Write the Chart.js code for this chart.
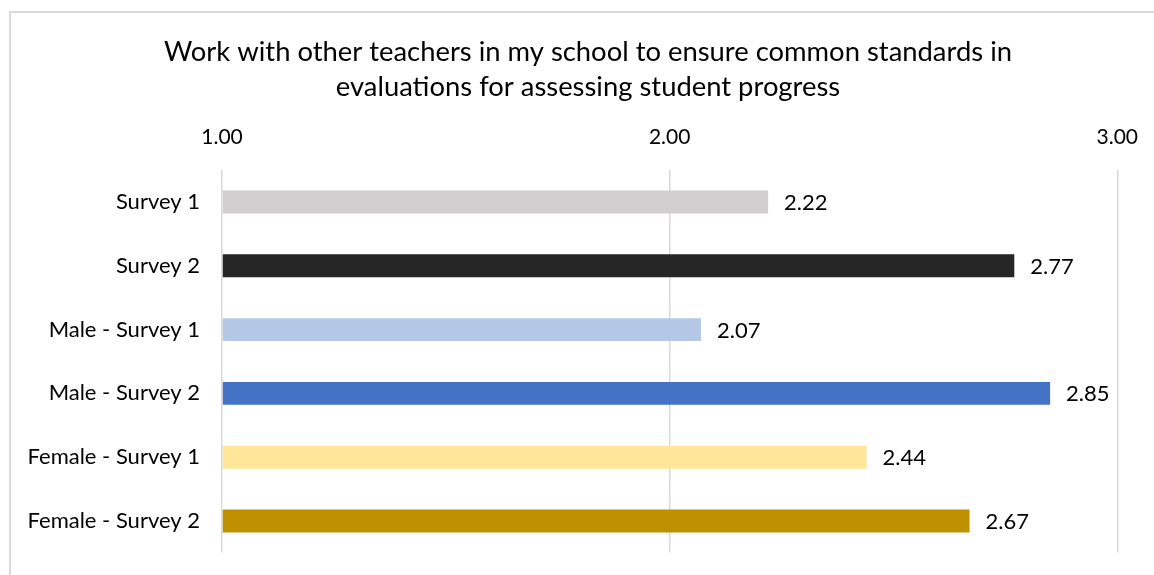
<!DOCTYPE html>
<html>
<head>
<meta charset="utf-8">
<script src="https://cdn.jsdelivr.net/npm/chart.js@4/dist/chart.umd.min.js"></script>
<style>
  html, body { margin: 0; padding: 0; background: #fff; overflow: hidden; }
  #frame {
    position: absolute; left: 9px; top: 11px; width: 1200px; height: 600px;
    border-left: 2px solid #d9d9d9; border-top: 2px solid #d9d9d9;
  }
  #wrap { position: absolute; left: 0; top: 0; width: 1158px; height: 588px; }
</style>
</head>
<body>
<div id="frame"></div>
<div id="wrap"><canvas id="chart"></canvas></div>
<script>
const categories = ["Survey 1", "Survey 2", "Male - Survey 1", "Male - Survey 2", "Female - Survey 1", "Female - Survey 2"];
const values = [2.22, 2.77, 2.07, 2.85, 2.44, 2.67];
const barColors = ["#d0cece", "#262626", "#b4c7e7", "#4472c4", "#ffe699", "#bf9000"];
const tickValues = [1, 2, 3];
const titleLines = ["Work with other teachers in my school to ensure common standards in", "evaluations for assessing student progress"];

// value labels to the right of each bar
const barLabels = {
  id: "barLabels",
  afterDatasetsDraw(chart) {
    const ctx = chart.ctx;
    const meta = chart.getDatasetMeta(0);
    ctx.save();
    ctx.font = "22px Lato";
    ctx.fillStyle = "#000";
    ctx.textAlign = "left";
    ctx.textBaseline = "middle";
    meta.data.forEach((bar, i) => {
      ctx.fillText(values[i].toFixed(2), bar.x + 16, bar.y + 1);
    });
    ctx.restore();
  }
};

// title, centred on the frame rather than the canvas
const chartTitle = {
  id: "chartTitle",
  afterDraw(chart) {
    const ctx = chart.ctx;
    ctx.save();
    ctx.font = "27.4px Lato";
    ctx.fillStyle = "#000";
    ctx.textAlign = "center";
    ctx.textBaseline = "middle";
    titleLines.forEach((line, i) => {
      ctx.fillText(line, 588, 52 + i * 35);
    });
    ctx.restore();
  }
};

const ctx = document.getElementById("chart").getContext("2d");
new Chart(ctx, {
  type: "bar",
  data: {
    labels: categories,
    datasets: [{
      data: values,
      backgroundColor: barColors,
      base: 1,
      barPercentage: 0.36,
      categoryPercentage: 1
    }]
  },
  options: {
    indexAxis: "y",
    responsive: true,
    maintainAspectRatio: false,
    animation: false,
    layout: { padding: { left: 10, right: 35, top: 105, bottom: 9 } },
    scales: {
      x: {
        position: "top",
        min: 1,
        max: 3,
        afterBuildTicks: (scale) => { scale.ticks = tickValues.map(v => ({ value: v })); },
        ticks: {
          padding: 20,
          color: "#000",
          font: { family: "Lato", size: 21 },
          callback: (v) => Number(v).toFixed(2)
        },
        grid: { color: "#d9d9d9", lineWidth: 1.5, drawTicks: false },
        border: { display: false }
      },
      y: {
        afterFit: (scale) => { scale.width = 212; },
        ticks: {
          padding: 22,
          color: "#000",
          font: { family: "Lato", size: 22 }
        },
        grid: { display: false, drawTicks: false },
        border: { display: false }
      }
    },
    plugins: {
      legend: { display: false },
      tooltip: { enabled: false },
      title: { display: false }
    }
  },
  plugins: [barLabels, chartTitle]
});
</script>
</body>
</html>
